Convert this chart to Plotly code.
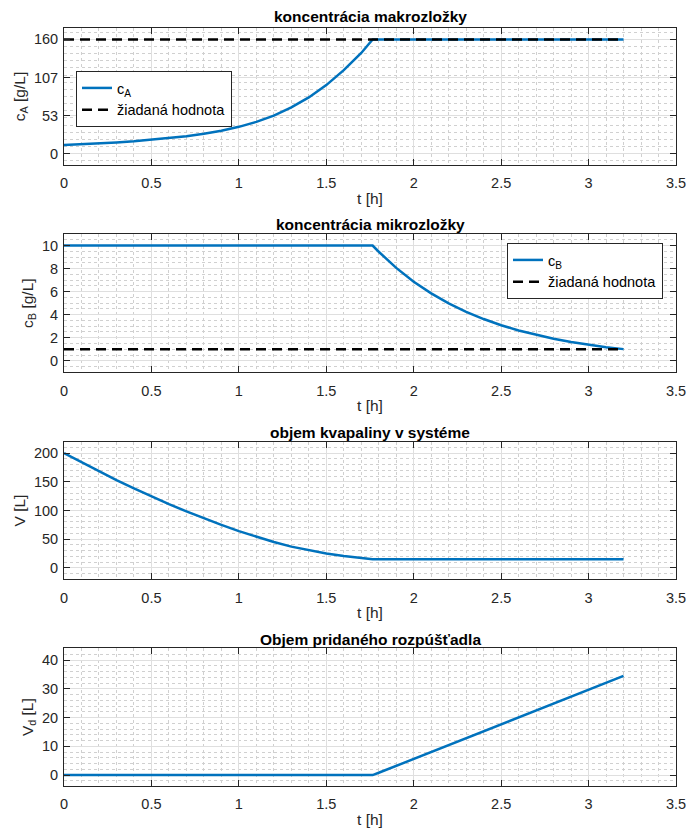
import plotly.graph_objects as go

# ---------------- data ----------------
t = [0.0, 0.1, 0.2, 0.3, 0.4, 0.5, 0.6, 0.7, 0.8, 0.9, 1.0, 1.1, 1.2, 1.3, 1.4,
     1.5, 1.6, 1.7, 1.765, 1.8, 1.9, 2.0, 2.1, 2.2, 2.3, 2.4, 2.5, 2.6, 2.7, 2.8,
     2.9, 3.0, 3.1, 3.2]

cA = [12.0, 13.0, 14.3, 15.7, 17.4, 19.4, 21.6, 24.4, 27.7, 32.0, 37.5, 44.4, 53.3,
      64.9, 78.7, 96.0, 117.0, 141.0, 160.0, 160.0, 160.0, 160.0, 160.0, 160.0, 160.0,
      160.0, 160.0, 160.0, 160.0, 160.0, 160.0, 160.0, 160.0, 160.0]

cB = [10.0, 10.0, 10.0, 10.0, 10.0, 10.0, 10.0, 10.0, 10.0, 10.0, 10.0, 10.0, 10.0,
      10.0, 10.0, 10.0, 10.0, 10.0, 10.0, 9.46, 8.06, 6.86, 5.85, 4.98, 4.25, 3.62,
      3.08, 2.63, 2.24, 1.91, 1.63, 1.39, 1.18, 1.01]

V = [200.0, 184.0, 168.0, 153.0, 138.5, 124.5, 111.0, 98.5, 86.5, 75.0, 64.0, 54.0,
     45.0, 37.0, 30.5, 25.0, 20.5, 17.0, 15.0, 15.0, 15.0, 15.0, 15.0, 15.0, 15.0,
     15.0, 15.0, 15.0, 15.0, 15.0, 15.0, 15.0, 15.0, 15.0]

Vd = [0.0, 0.0, 0.0, 0.0, 0.0, 0.0, 0.0, 0.0, 0.0, 0.0, 0.0, 0.0, 0.0, 0.0, 0.0, 0.0,
      0.0, 0.0, 0.0, 0.8, 3.2, 5.6, 8.0, 10.4, 12.8, 15.2, 17.6, 20.0, 22.4, 24.8,
      27.2, 29.6, 32.0, 34.5]

t_set = [0.0, 3.2]
cA_set = [160.0, 160.0]
cB_set = [1.0, 1.0]

titles = ["koncentrácia makrozložky", "koncentrácia mikrozložky",
          "objem kvapaliny v systéme", "Objem pridaného rozpúšťadla"]
ylabels = ["c<sub>A</sub> [g/L]", "c<sub>B</sub> [g/L]", "V [L]", "V<sub>d</sub> [L]"]
xlabel = "t [h]"
cA_ticks = [0, 160 / 3, 320 / 3, 160]
cA_ticktext = ["0", "53", "107", "160"]

# ---------------- styling ----------------
W, H = 688, 829
ML, MR, MT, MB = 64, 12, 28, 43
PH = H - MT - MB
FONT = "Liberation Sans, Arial, Helvetica, sans-serif"
AX = "#262626"
BLUE = "#0072BD"
MAJ = "#dfdfdf"
MIN = "#d0d0d0"

def frac(px):
    return (H - MB - px) / PH

panels_px = [(28, 165), (234, 372.3), (441.7, 579.3), (648.3, 786)]
title_px = [16.5, 225, 432, 639]
yranges = [[-16, 176], [-1, 11], [-20, 220], [-3.8, 44.1]]
ydticks = [None, 2, 50, 10]
yminor = [10, 0.5, 10, 2]

fig = go.Figure()

fig.add_trace(go.Scatter(x=t, y=cA, mode="lines", name="c<sub>A</sub>",
                         line=dict(color=BLUE, width=2.5), xaxis="x", yaxis="y",
                         legend="legend"))
fig.add_trace(go.Scatter(x=t_set, y=cA_set, mode="lines", name="žiadaná hodnota",
                         line=dict(color="black", width=2.5, dash="10px,6px"),
                         xaxis="x", yaxis="y", legend="legend"))
fig.add_trace(go.Scatter(x=t, y=cB, mode="lines", name="c<sub>B</sub>",
                         line=dict(color=BLUE, width=2.5), xaxis="x2", yaxis="y2",
                         legend="legend2"))
fig.add_trace(go.Scatter(x=t_set, y=cB_set, mode="lines", name="žiadaná hodnota",
                         line=dict(color="black", width=2.5, dash="10px,6px"),
                         xaxis="x2", yaxis="y2", legend="legend2"))
fig.add_trace(go.Scatter(x=t, y=V, mode="lines", showlegend=False,
                         line=dict(color=BLUE, width=2.5), xaxis="x3", yaxis="y3"))
fig.add_trace(go.Scatter(x=t, y=Vd, mode="lines", showlegend=False,
                         line=dict(color=BLUE, width=2.5), xaxis="x4", yaxis="y4"))

layout = dict(
    width=W, height=H, autosize=False,
    margin=dict(l=ML, r=MR, t=MT, b=MB, pad=0),
    paper_bgcolor="white", plot_bgcolor="white",
    font=dict(family=FONT, size=14, color=AX),
    annotations=[],
)

for i in range(4):
    n = "" if i == 0 else str(i + 1)
    top_px, bot_px = panels_px[i]
    xa = dict(
        domain=[0, 1], range=[0, 3.5], anchor="y" + n,
        tickmode="linear", tick0=0, dtick=0.5,
        ticks="inside", ticklen=6, tickcolor=AX, tickwidth=1,
        showline=True, linecolor=AX, linewidth=1, mirror="ticks",
        showgrid=True, gridcolor=MAJ, gridwidth=1,
        zeroline=False, automargin=False,
        minor=dict(tickmode="linear", tick0=0, dtick=0.1, showgrid=True,
                   gridcolor=MIN, griddash="dot", gridwidth=1, ticks=""),
        tickfont=dict(size=14.5, color=AX),
        ticklabelstandoff=5,
        title=dict(text=xlabel, font=dict(size=15.5, color=AX), standoff=2),
    )
    ya = dict(
        domain=[frac(bot_px), frac(top_px)], range=yranges[i], anchor="x" + n,
        ticks="inside", ticklen=6, tickcolor=AX, tickwidth=1,
        showline=True, linecolor=AX, linewidth=1, mirror="ticks",
        showgrid=True, gridcolor=MAJ, gridwidth=1,
        zeroline=False, automargin=False,
        minor=dict(tickmode="linear", tick0=0, dtick=yminor[i], showgrid=True,
                   gridcolor=MIN, griddash="dot", gridwidth=1, ticks=""),
        tickfont=dict(size=14.5, color=AX),
        ticklabelstandoff=2,
        title=dict(text=ylabels[i], font=dict(size=15.5, color=AX), standoff=4),
    )
    if i == 0:
        ya.update(tickmode="array", tickvals=cA_ticks, ticktext=cA_ticktext)
    else:
        ya.update(tickmode="linear", tick0=0, dtick=ydticks[i])
    layout["xaxis" + n] = xa
    layout["yaxis" + n] = ya
    layout["annotations"].append(dict(
        text="<b>" + titles[i] + "</b>", xref="paper", yref="paper",
        x=0.5, y=frac(title_px[i]), xanchor="center", yanchor="middle",
        showarrow=False, font=dict(size=15.5, color="black", family=FONT)))

legend_common = dict(
    bgcolor="white", bordercolor=AX, borderwidth=1,
    font=dict(size=14.5, color="black", family=FONT),
    xanchor="left", yanchor="top", tracegroupgap=0,
)
layout["legend"] = dict(legend_common, x=(76 - ML) / (W - ML - MR), y=frac(71))
layout["legend2"] = dict(legend_common, x=(507 - ML) / (W - ML - MR), y=frac(243))

fig.update_layout(**layout)
fig.write_html("out.html", config={"responsive": False})
